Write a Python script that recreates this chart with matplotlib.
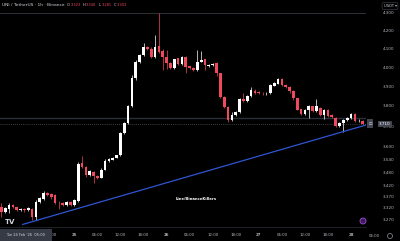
import matplotlib
matplotlib.use('Agg')
import matplotlib.pyplot as plt
from matplotlib.patches import Rectangle, Ellipse
from matplotlib.ticker import NullLocator, NullFormatter
import numpy as np

# header / crosshair info
symbol = 'UNI / TetherUS · 1h · Binance'
crosshair_ohlc = [('O', '3.323'), ('H', '3.340'), ('L', '3.281'), ('C', '3.303')]
crosshair_time = "Tue 24 Feb '26  05:00"
first_hour = 5  # hours counted from 24 Feb 00:00

# hourly candles, 24 Feb 05:00 -> 28 Feb 03:00
opens = [3.323, 3.303, 3.316, 3.331, 3.322, 3.311, 3.314, 3.310, 3.316, 3.281,
         3.347, 3.360, 3.387, 3.380, 3.376, 3.343, 3.343, 3.333, 3.347, 3.333,
         3.350, 3.524, 3.506, 3.467, 3.480, 3.465, 3.456, 3.493, 3.533, 3.539,
         3.548, 3.559, 3.667, 3.713, 3.799, 3.941, 4.026, 4.065, 4.110, 4.100,
         4.056, 4.114, 4.088, 4.056, 4.020, 3.994, 4.047, 4.016, 4.056, 4.005,
         3.997, 3.985, 4.029, 4.042, 4.006, 4.013, 4.020, 3.967, 3.846, 3.796,
         3.730, 3.754, 3.768, 3.833, 3.823, 3.848, 3.878, 3.872, 3.866, 3.863,
         3.864, 3.904, 3.913, 3.936, 3.906, 3.895, 3.878, 3.838, 3.782, 3.759,
         3.779, 3.797, 3.772, 3.790, 3.754, 3.779, 3.754, 3.742, 3.700, 3.716,
         3.729, 3.741, 3.759, 3.724, 3.724]
highs = [3.340, 3.325, 3.343, 3.336, 3.325, 3.318, 3.318, 3.324, 3.320, 3.354,
         3.366, 3.396, 3.392, 3.384, 3.380, 3.350, 3.345, 3.350, 3.351, 3.358,
         3.527, 3.557, 3.510, 3.493, 3.485, 3.468, 3.498, 3.540, 3.545, 3.552,
         3.563, 3.670, 3.720, 3.805, 3.959, 4.038, 4.072, 4.131, 4.115, 4.108,
         4.174, 4.296, 4.095, 4.090, 4.025, 4.046, 4.050, 4.060, 4.060, 4.008,
         4.000, 4.092, 4.088, 4.046, 4.016, 4.024, 4.025, 3.970, 3.850, 3.800,
         3.771, 3.776, 3.840, 3.864, 3.856, 3.898, 3.885, 3.876, 3.872, 3.872,
         3.910, 3.920, 3.942, 3.945, 3.910, 3.900, 3.882, 3.842, 3.786, 3.783,
         3.805, 3.800, 3.833, 3.795, 3.783, 3.784, 3.757, 3.746, 3.720, 3.733,
         3.745, 3.763, 3.765, 3.735, 3.728]
lows = [3.281, 3.298, 3.298, 3.318, 3.306, 3.306, 3.304, 3.306, 3.267, 3.267,
        3.342, 3.356, 3.372, 3.360, 3.336, 3.315, 3.328, 3.330, 3.329, 3.330,
        3.345, 3.500, 3.460, 3.462, 3.430, 3.450, 3.452, 3.490, 3.528, 3.535,
        3.545, 3.555, 3.660, 3.710, 3.795, 3.935, 4.020, 4.060, 4.090, 4.050,
        4.050, 4.078, 3.985, 3.990, 3.990, 3.990, 4.010, 4.010, 3.971, 3.990,
        3.980, 3.980, 4.025, 3.985, 4.000, 4.008, 3.953, 3.840, 3.790, 3.720,
        3.724, 3.750, 3.765, 3.820, 3.820, 3.845, 3.862, 3.860, 3.857, 3.855,
        3.860, 3.900, 3.910, 3.900, 3.890, 3.864, 3.832, 3.778, 3.755, 3.755,
        3.738, 3.767, 3.768, 3.750, 3.733, 3.745, 3.740, 3.697, 3.696, 3.672,
        3.725, 3.737, 3.720, 3.720, 3.708]
closes = [3.303, 3.318, 3.331, 3.322, 3.311, 3.314, 3.310, 3.320, 3.281, 3.347,
          3.362, 3.387, 3.377, 3.368, 3.343, 3.340, 3.333, 3.347, 3.333, 3.354,
          3.518, 3.506, 3.467, 3.487, 3.464, 3.455, 3.493, 3.534, 3.540, 3.547,
          3.560, 3.667, 3.713, 3.799, 3.941, 4.029, 4.065, 4.110, 4.096, 4.056,
          4.110, 4.083, 4.053, 4.020, 3.994, 4.042, 4.016, 4.056, 4.002, 3.994,
          3.985, 4.029, 4.038, 4.011, 4.011, 4.019, 3.967, 3.846, 3.796, 3.730,
          3.754, 3.771, 3.833, 3.826, 3.851, 3.881, 3.868, 3.865, 3.863, 3.866,
          3.906, 3.915, 3.936, 3.906, 3.895, 3.877, 3.838, 3.779, 3.759, 3.779,
          3.800, 3.772, 3.797, 3.754, 3.779, 3.750, 3.743, 3.700, 3.716, 3.729,
          3.741, 3.759, 3.725, 3.727, 3.710]

price_ticks = [3.27, 3.32, 3.37, 3.42, 3.48, 3.54, 3.60, 3.70, 3.80, 3.90, 4.00, 4.10, 4.20, 4.30]
time_ticks = [18, 24, 30, 36, 42, 48, 54, 60, 66, 72, 78, 84, 90, 96]
time_labels = ['18:00', '25', '06:00', '12:00', '18:00', '26', '06:00', '12:00',
               '18:00', '27', '06:00', '12:00', '18:00', '28']
day_labels = ['25', '26', '27', '28']
extra_tick, extra_label = 102, '06:00'

trend_x = [10.56, 99.9]
trend_y = [3.248, 3.705]
high_line = 4.296
cross_line = 3.738
last_price = closes[-1]
watermark = 'Line/BinanceKillers'

up_col = '#ffffff'
down_col = '#f0485c'
txt_col = '#b2b5be'

W, H = 400, 241
fig = plt.figure(figsize=(W / 100, H / 100), dpi=100, facecolor='black')
def fx(px): return px / W
def fy(py): return 1 - py / H

ax = fig.add_axes([0, fy(227), fx(366), 227 / H])
ax.set_facecolor('black')
ax.set_yscale('log')
ax.set_ylim(3.237, 4.372)
ax.set_xlim(4.65, 99.9)

o = np.array(opens); c = np.array(closes)
hi = np.array(highs); lo = np.array(lows)
x = np.arange(first_hour, first_hour + len(c))
cols = np.where(c >= o, up_col, down_col)
ax.vlines(x, lo, hi, colors=cols, lw=0.5, zorder=3)
ax.bar(x, np.maximum(np.abs(c - o), 0.002), bottom=np.minimum(o, c), width=0.7,
       color=cols, lw=0, zorder=4)

ax.axhline(high_line, color='#434651', lw=0.5, zorder=1)
ax.axhline(cross_line, color='#2a2e39', lw=1.0, zorder=1)
ax.axhline(last_price, color='#787b86', lw=0.5, ls=(0, (1, 2)), zorder=2)
ax.plot(trend_x, trend_y, color='#2f55d4', lw=0.9, zorder=5)

fig.text(fx(196), fy(199), watermark, color='white', fontsize=2.7, fontweight='bold',
         ha='center', va='center')

# axes / ticks
ax.yaxis.tick_right()
ax.set_yticks(price_ticks)
ax.set_yticklabels([f'{p:.3f}' for p in price_ticks])
ax.yaxis.set_minor_locator(NullLocator())
ax.yaxis.set_minor_formatter(NullFormatter())
ax.tick_params(axis='y', length=0, pad=12, labelsize=3.0, labelcolor=txt_col)
ax.set_xticks(time_ticks)
ax.set_xticklabels(time_labels)
for t in ax.get_xticklabels():
    if t.get_text() in day_labels:
        t.set_fontweight('bold')
        t.set_color('#d1d4dc')
ax.tick_params(axis='x', length=0, pad=4.5, labelsize=2.8, labelcolor=txt_col)
ax.text(extra_tick, -0.04, extra_label, transform=ax.get_xaxis_transform(),
        ha='center', va='center', fontsize=2.8, color=txt_col, clip_on=False)
for s in ['top', 'left', 'right']:
    ax.spines[s].set_visible(False)
ax.spines['bottom'].set_color('#2a2e39')
ax.spines['bottom'].set_linewidth(0.5)

# header: symbol then O/H/L/C values laid out one after another
renderer = fig.canvas.get_renderer()
t = fig.text(fx(2), fy(5.5), symbol, color='#d1d4dc', fontsize=3.2, va='center')
cursor = t.get_window_extent(renderer).x1 + 2.5
for lab, val in crosshair_ohlc:
    t = fig.text(cursor / W, fy(5.5), lab, color='#d1d4dc', fontsize=2.6, va='center')
    cursor = t.get_window_extent(renderer).x1 + 0.4
    t = fig.text(cursor / W, fy(5.5), val, color=down_col, fontsize=2.6, va='center')
    cursor = t.get_window_extent(renderer).x1 + 2.5

# price label box
yl = 30.3 + 755 * np.log(4.2 / last_price)
fig.patches.append(Rectangle((fx(367), fy(yl + 4.5)), fx(6), 9 / H, transform=fig.transFigure,
                             facecolor='#434651', edgecolor='none', zorder=5))
fig.text(fx(370), fy(yl), '⊡', color='#d1d4dc', fontsize=3.2, ha='center', va='center', zorder=6)
fig.text(fx(385), fy(yl), f'{last_price:.3f}', color='white', fontsize=3.0, ha='center', va='center',
         zorder=6, bbox=dict(boxstyle='square,pad=0.35', facecolor='#434651', edgecolor='none'))

# USDT box
fig.text(fx(390), fy(6), 'USDT ▾', color='#d1d4dc', fontsize=2.6, ha='center', va='center', zorder=6,
         bbox=dict(boxstyle='round,pad=0.4', facecolor='black', edgecolor='#434651', lw=0.4))

# crosshair time box
fig.patches.append(Rectangle((0, 0), fx(52), fy(229), transform=fig.transFigure,
                             facecolor='#363a45', edgecolor='none', zorder=5))
fig.text(fx(26), fy(235.5), crosshair_time, color='#d1d4dc', fontsize=2.6, ha='center',
         va='center', zorder=6)

# logo and icons
fig.text(fx(10), fy(222.5), 'TV', color='#d1d4dc', fontsize=5, fontweight='bold',
         ha='center', va='center')
fig.patches.append(Ellipse((fx(363), fy(221)), 6 / W, 6 / H, transform=fig.transFigure,
                           facecolor='#3d1a5c', edgecolor='#9c4dd8', lw=0.6, zorder=5))
fig.patches.append(Ellipse((fx(390), fy(236)), 5 / W, 5 / H, transform=fig.transFigure,
                           facecolor='black', edgecolor='#9598a1', lw=0.5, zorder=5))

fig.savefig('out.png', dpi=100, facecolor='black')
